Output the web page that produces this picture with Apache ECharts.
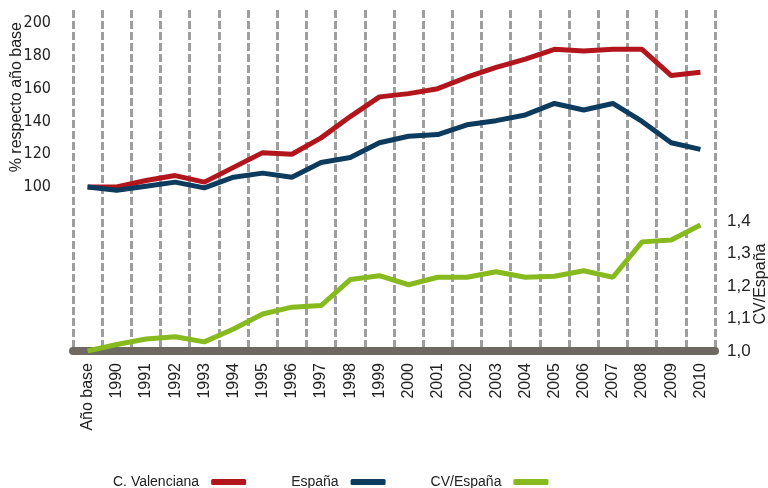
<!DOCTYPE html>
<html lang="es">
<head>
  <meta charset="UTF-8">
  <title>C. Valenciana / España</title>
  <script src="https://cdn.jsdelivr.net/npm/echarts@6/dist/echarts.min.js"></script>
</head>
<body style="margin:0;background:#fff;">
  <div id="container" style="width:768px;height:488px;"></div>
  <script>
    // datos
    var years = ['Año base', '1990', '1991', '1992', '1993', '1994', '1995', '1996', '1997', '1998', '1999',
      '2000', '2001', '2002', '2003', '2004', '2005', '2006', '2007', '2008', '2009', '2010'];
    var valenciana = [100, 100, 104, 107, 103, 112, 121, 120, 130, 143, 155,
      157, 160, 167, 173, 178, 184, 183, 184, 184, 168, 170];
    var espana = [100, 98, 100.5, 103, 99.5, 106, 108.5, 106, 115, 118, 127,
      131, 132, 138, 140.5, 144, 151, 147, 151, 140, 127, 123];
    var ratio = [1.0, 1.02, 1.037, 1.044, 1.028, 1.068, 1.114, 1.135, 1.14, 1.22, 1.232,
      1.204, 1.227, 1.227, 1.244, 1.227, 1.23, 1.247, 1.227, 1.336, 1.342, 1.388];

    var myChart = echarts.init(document.getElementById('container'));

    myChart.setOption({
      backgroundColor: '#ffffff',
      animation: false,
      grid: { left: 73, right: 53, top: 10, bottom: 137 },
      legend: {
        top: 470,
        left: 108,
        itemGap: 45,
        align: 'right',
        icon: 'roundRect',
        itemWidth: 35,
        itemHeight: 6,
        textStyle: { fontFamily: 'Liberation Sans', fontSize: 14, color: '#222', padding: [0, 7, 0, 0] },
        data: ['C. Valenciana', 'España', 'CV/España']
      },
      graphic: [
        {
          type: 'text', left: 9, top: 22, rotation: Math.PI / 2,
          style: { text: '% respecto año base', fontFamily: 'Liberation Sans', fontSize: 16, fill: '#222' }
        },
        {
          type: 'text', x: 761, y: 284, rotation: Math.PI / 2,
          style: { text: 'CV/España', fontFamily: 'Liberation Sans', fontSize: 16, fill: '#222',
            align: 'center', verticalAlign: 'middle' }
        }
      ],
      xAxis: {
        type: 'category',
        data: years,
        boundaryGap: true,
        axisLine: { onZero: false, lineStyle: { color: '#6d6862', width: 8, cap: 'round' } },
        axisTick: { show: false },
        axisLabel: {
          rotate: 90, margin: 12, interval: 0,
          fontFamily: 'Liberation Sans', fontSize: 16, color: '#222'
        },
        splitLine: {
          show: true, interval: 0,
          lineStyle: { color: '#9e9e9e', width: 3, type: [8, 3] }
        }
      },
      yAxis: [
        {
          type: 'value', min: 0, max: 208, interval: 20,
          axisLine: { show: false }, axisTick: { show: false }, splitLine: { show: false },
          axisLabel: {
            margin: 22, fontFamily: '"DejaVu Sans Condensed", "Liberation Sans", sans-serif',
            fontSize: 16, color: '#222',
            formatter: function (v) { return v >= 100 && v <= 200 ? String(v) : ''; }
          }
        },
        {
          type: 'value', min: 1, max: 2.05, interval: 0.1, position: 'right',
          axisLine: { show: false }, axisTick: { show: false }, splitLine: { show: false },
          axisLabel: {
            margin: 12, fontFamily: 'Liberation Sans', fontSize: 17, color: '#222',
            formatter: function (v) { return v <= 1.4001 ? v.toFixed(1).replace('.', ',') : ''; }
          }
        }
      ],
      series: [
        {
          name: 'C. Valenciana', type: 'line', yAxisIndex: 0, data: valenciana,
          showSymbol: false, color: '#b3151c', lineStyle: { width: 5 }
        },
        {
          name: 'España', type: 'line', yAxisIndex: 0, data: espana,
          showSymbol: false, color: '#0c3b5d', lineStyle: { width: 5 }
        },
        {
          name: 'CV/España', type: 'line', yAxisIndex: 1, data: ratio,
          showSymbol: false, color: '#86ba1e', lineStyle: { width: 5 }
        }
      ]
    });
  </script>
</body>
</html>
